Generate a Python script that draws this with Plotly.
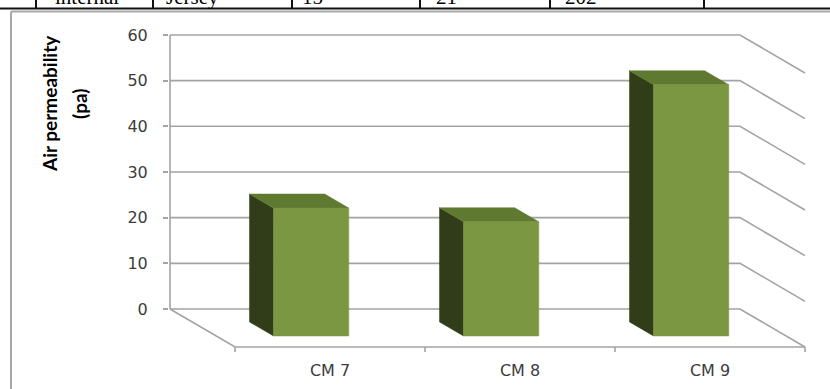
import plotly.graph_objects as go

# ---- data -------------------------------------------------------------
categories = ["CM 7", "CM 8", "CM 9"]
air_permeability = [28, 25, 55]          # pa
y_ticks = [0, 10, 20, 30, 40, 50, 60]

# last row of the table that sits above the chart (only its lower edge shows)
table_row = ["internal", "Jersey", "15", "21", "202"]

# ---- page / plot-area geometry (pixels) -------------------------------
W, H = 830, 389
L, R, T, B = 169, 808, 33, 354           # plot area edges
X_UNIT = 190.0                           # px per category on the front edge
X0_PX = 330.0                            # px of first category centre (front)
Y_UNIT = 4.567                           # px per pa on the back wall
Y0_PX = 309.0                            # px of 0 on the back wall

x_range = [(L - X0_PX) / X_UNIT, (R - X0_PX) / X_UNIT]
y_range = [(Y0_PX - B) / Y_UNIT, (Y0_PX - T) / Y_UNIT]

# oblique depth of the 3-D box (back wall -> front edge), in axis units
DX = 65 / X_UNIT
DY = 38 / Y_UNIT
N = len(categories)
x_lo, x_hi = -0.5, N - 0.5

GRID = "#a3a3a3"
TEXT = "#3c3c3c"
FRONT = "#7c9742"
SIDE = "#313d18"
TOP = "#5f7a30"


def px2paper(px, py):
    return (px - L) / (R - L), (B - py) / (B - T)


fig = go.Figure()

# back-wall gridlines, bending forward along the right side wall
gx, gy = [], []
for v in y_ticks:
    gx += [x_lo - DX, x_hi - DX, x_hi, None]
    gy += [v, v, v - DY, None]
# back-wall vertical edge
gx += [x_lo - DX, x_lo - DX, None]
gy += [0, max(y_ticks), None]
# floor: left diagonal and front edge
gx += [x_lo - DX, x_lo, x_hi, None]
gy += [0, -DY, -DY, None]
# tick marks on the front floor edge, at category boundaries
tick_drop = 5 / Y_UNIT
for k in range(N + 1):
    b = x_lo + k
    gx += [b, b, None]
    gy += [-DY, -DY - tick_drop, None]

fig.add_trace(go.Scatter(x=gx, y=gy, mode="lines",
                         line=dict(color=GRID, width=1.6),
                         hoverinfo="skip", showlegend=False))

# 3-D columns: left side face, top face, front face
d0, d1 = 0.34, 0.71        # column depth as a fraction of the floor depth
hw = 0.198                 # half column width, category units


def pt(i, dx, val, d):
    return i + dx - DX * (1 - d), val - DY * d


for i, v in enumerate(air_permeability):
    faces = [
        ([(-hw, 0, d0), (-hw, v, d0), (-hw, v, d1), (-hw, 0, d1)], SIDE),
        ([(-hw, v, d0), (hw, v, d0), (hw, v, d1), (-hw, v, d1)], TOP),
        ([(-hw, 0, d1), (hw, 0, d1), (hw, v, d1), (-hw, v, d1)], FRONT),
    ]
    for corners, col in faces:
        xs, ys = zip(*[pt(i, a, b, c) for a, b, c in corners])
        fig.add_trace(go.Scatter(
            x=list(xs) + [xs[0]], y=list(ys) + [ys[0]],
            mode="lines", fill="toself", fillcolor=col,
            line=dict(color=col, width=0.5),
            name=categories[i], hoverinfo="skip", showlegend=False))

# ---- page decoration: table bottom edge and chart frame ---------------
shapes = []
x_a, y_a = px2paper(0, 8.5)
x_b, _ = px2paper(W, 8.5)
shapes.append(dict(type="line", xref="paper", yref="paper",
                   x0=x_a, y0=y_a, x1=x_b, y1=y_a,
                   line=dict(color="#111111", width=2)))
for cx in [36, 153, 292, 420, 550, 704]:
    xa, ya = px2paper(cx, -2)
    _, yb = px2paper(cx, 8.5)
    shapes.append(dict(type="line", xref="paper", yref="paper",
                       x0=xa, y0=ya, x1=xa, y1=yb,
                       line=dict(color="#111111", width=2)))
fx, fy = px2paper(11, 11.5)
fx2, _ = px2paper(W + 2, 11.5)
_, fy2 = px2paper(11, H + 2)
shapes.append(dict(type="line", xref="paper", yref="paper",
                   x0=fx, y0=fy, x1=fx2, y1=fy,
                   line=dict(color="#a8a8a8", width=2)))
shapes.append(dict(type="line", xref="paper", yref="paper",
                   x0=fx, y0=fy, x1=fx, y1=fy2,
                   line=dict(color="#a8a8a8", width=2)))

annotations = []
for txt, cx in zip(table_row, [53, 164, 300, 434, 563]):
    ax, ay = px2paper(cx, 11)
    annotations.append(dict(text=txt, xref="paper", yref="paper",
                            x=ax, y=ay, xanchor="left", yanchor="bottom",
                            showarrow=False,
                            font=dict(family="Liberation Serif", size=21,
                                      color="#000000")))

# axis title, two rotated lines
for txt, cx in [("Air permeability", 49), ("(pa)", 79)]:
    ax, ay = px2paper(cx, 104)
    annotations.append(dict(text=f"<b>{txt}</b>", xref="paper", yref="paper",
                            x=ax, y=ay, xanchor="center", yanchor="middle",
                            textangle=-90, showarrow=False,
                            font=dict(family="Lato", size=19,
                                      color="#000000")))

fig.update_layout(
    width=W, height=H,
    margin=dict(l=L, r=W - R, t=T, b=H - B, pad=0, autoexpand=False),
    paper_bgcolor="white", plot_bgcolor="white",
    shapes=shapes, annotations=annotations,
    xaxis=dict(range=x_range, tickvals=list(range(N)), ticktext=categories,
               automargin=False,
               showgrid=False, zeroline=False, showline=False, ticks="",
               ticklabelstandoff=5,
               tickfont=dict(family="DejaVu Sans", size=16, color=TEXT)),
    yaxis=dict(range=y_range, tickvals=y_ticks, automargin=False,
               showgrid=False, zeroline=False, showline=False,
               ticks="outside", ticklen=5, tickwidth=1.5, tickcolor=GRID,
               ticklabelstandoff=12,
               tickfont=dict(family="DejaVu Sans", size=16, color=TEXT)),
)

fig.write_html("out.html")
